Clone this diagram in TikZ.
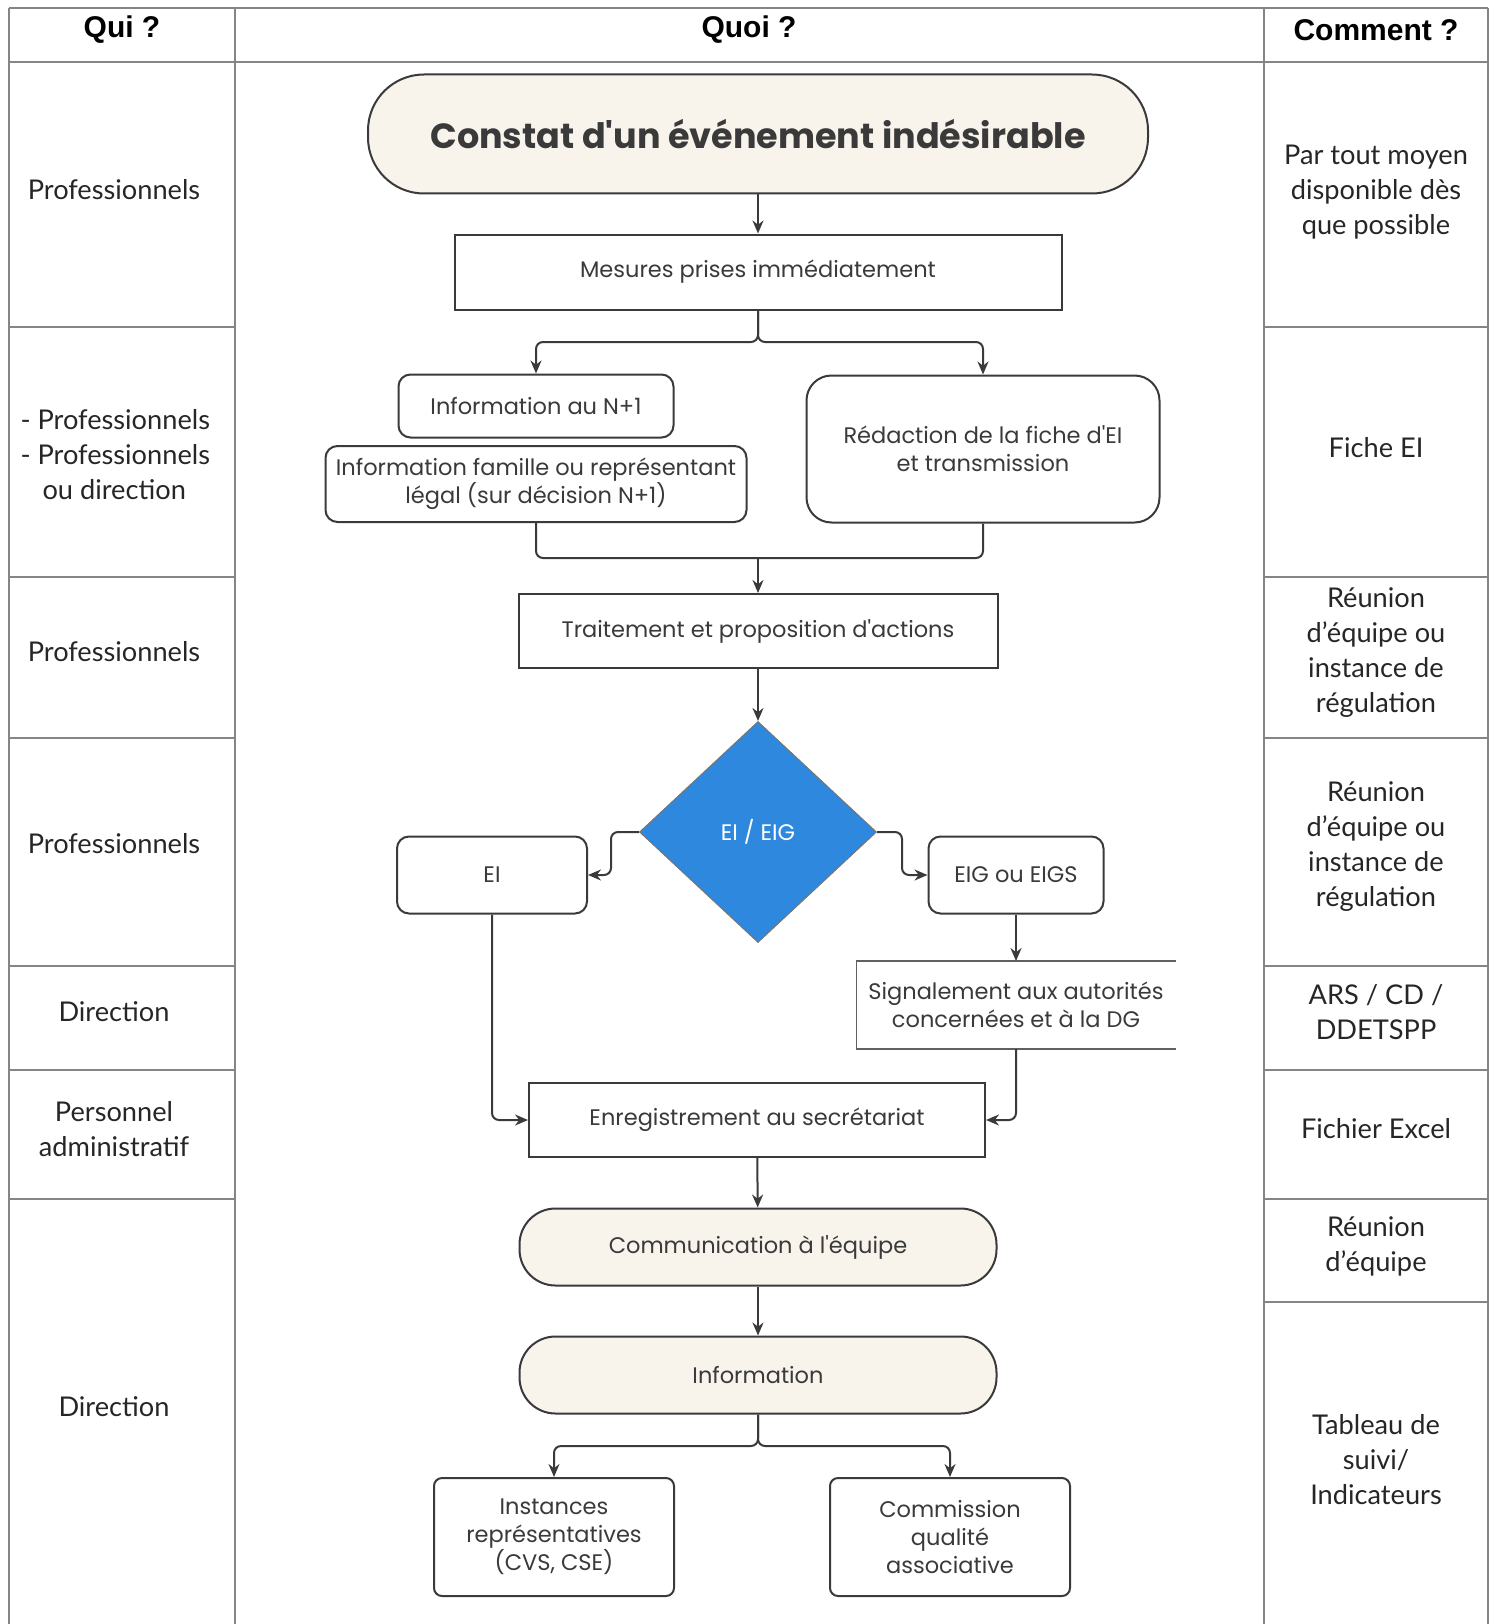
\documentclass[tikz,border=0pt]{standalone}
\usepackage{fontspec}
\setmainfont{Lato}
\newfontfamily\flowfont{Poppins}
\newfontfamily\titrefont{Liberation Sans}
\usetikzlibrary{shapes.geometric,positioning,arrows.meta}

\definecolor{creme}{HTML}{F8F4EC}
\definecolor{bleu}{HTML}{2E88DE}
\definecolor{trait}{HTML}{3A3A3A}
\definecolor{grille}{HTML}{858585}

\tikzset{
    boite/.style={draw=trait, line width=2, fill=white, text=trait, align=center,
                  inner sep=0, font=\flowfont\fontsize{22.5}{28}\selectfont},
    carre/.style={boite, rectangle},
    arrondi/.style={boite, rounded corners=12},
    stade/.style={boite, fill=creme, rounded corners=36},
    fleche/.style={-{Stealth[length=13,width=11]}, draw=trait, line width=2, rounded corners=7},
    ligne/.style={draw=trait, line width=2, rounded corners=7},
}

\begin{document}
\begin{tikzpicture}[x=1pt, y=-1pt,
    cellule/.style={font=\fontsize{27.2}{35}\selectfont, align=center, text=black!85},
    entete/.style={font=\titrefont\bfseries\fontsize{30}{34}\selectfont}]
    \useasboundingbox (0,0) rectangle (1496,1624);

    % Grid
    \draw[grille, line width=2] (9,8) -- (1488,8) (9,62) -- (1488,62);
    \foreach \x in {9,235,1264,1488} \draw[grille, line width=2] (\x,8) -- (\x,1624);
    \foreach \y in {327,577,738,966,1070,1199} \draw[grille, line width=2] (9,\y) -- (235,\y);
    \foreach \y in {327,577,738,966,1070,1199,1302} \draw[grille, line width=2] (1264,\y) -- (1488,\y);

    % Headers
    \node[entete] (qui) at (122,30) {Qui ?};
    \node[entete] (quoi) at (749,30) {Quoi ?};
    \node[entete] (comment) at (1376,30) {Comment ?};

    % Qui ?
    \foreach \y/\texte in {190/Professionnels, 652/Professionnels, 844/Professionnels,
                           1012/Direction, 1129/{Personnel\\administratif}, 1407/Direction}
        \node[cellule] at (114,\y) {\texte};
    \node[cellule, align=left, anchor=west] (qui2) at (17,455)
        {- Professionnels\\- Professionnels\\\hspace*{22pt}ou direction};

    % Comment ?
    \foreach \y/\texte in {192/{Par tout moyen\\disponible dès\\que possible}, 448/Fiche EI,
                           653/{Réunion\\d’équipe ou\\instance de\\régulation},
                           847/{Réunion\\d’équipe ou\\instance de\\régulation},
                           1012/{ARS / CD /\\DDETSPP}, 1129/Fichier Excel,
                           1246/{Réunion\\d’équipe}, 1460/{Tableau de\\suivi/\\Indicateurs}}
        \node[cellule] at (1376,\y) {\texte};

    % Quoi ?
    \node[stade, rounded corners=56, minimum width=780, minimum height=119,
          font=\flowfont\bfseries\fontsize{35}{40}\selectfont] (constat) at (758,134)
        {Constat d'un événement indésirable};
    \node[carre, minimum width=607, minimum height=75] (mesures) at (758,272)
        {Mesures prises immédiatement};
    \node[arrondi, minimum width=275, minimum height=63] (infoN) at (536,406)
        {Information au N+1};
    \node[arrondi, minimum width=421, minimum height=76] (famille) at (536,484)
        {Information famille ou représentant\\légal (sur décision N+1)};
    \node[arrondi, rounded corners=25, minimum width=353, minimum height=147] (redaction) at (983,449)
        {Rédaction de la fiche d'EI\\et transmission};
    \node[carre, minimum width=479, minimum height=74] (traitement) at (758,631)
        {Traitement et proposition d'actions};
    \node[diamond, aspect=1.07, fill=bleu, draw=trait!70, line width=1, minimum width=237,
          minimum height=221, inner sep=0, text=white, font=\flowfont\fontsize{22.5}{28}\selectfont]
        (choix) at (758,832) {EI / EIG};
    \node[arrondi, minimum width=190, minimum height=77] (ei) at (492,875) {EI};
    \node[arrondi, minimum width=175, minimum height=77] (eig) at (1016,875) {EIG ou EIGS};
    \node[boite, draw=none, minimum width=317, minimum height=86] (signal) at (1016,1005)
        {Signalement aux autorités\\concernées et à la DG};
    \draw[trait!80, line width=1.5] (signal.north east) -- (signal.north west)
        -- (signal.south west) -- (signal.south east);
    \node[carre, minimum width=456, minimum height=74] (enreg) at (757,1120)
        {Enregistrement au secrétariat};
    \node[stade, minimum width=477, minimum height=77] (commun) at (758,1247)
        {Communication à l'équipe};
    \node[stade, minimum width=477, minimum height=77] (information) at (758,1375)
        {Information};
    \node[arrondi, rounded corners=8, minimum width=240, minimum height=118] (instances) at (554,1537)
        {Instances\\représentatives\\(CVS, CSE)};
    \node[arrondi, rounded corners=8, minimum width=240, minimum height=118] (commission) at (950,1537)
        {Commission\\qualité\\associative};

    % Connectors
    \coordinate (fourche) at (758,342);
    \coordinate (jonction) at (758,558);
    \coordinate (fourche2) at (758,1446);
    \draw[fleche] (constat) -- (mesures);
    \draw[fleche] (mesures.south) -- (fourche) -| (infoN.north);
    \draw[fleche] (mesures.south) -- (fourche) -| (redaction.north);
    \draw[ligne] (famille.south) |- (jonction);
    \draw[ligne] (redaction.south) |- (jonction);
    \draw[fleche] (jonction) -- (traitement);
    \draw[fleche] (traitement) -- (choix);
    \draw[fleche] (choix.west) -- ++(-28,0) |- (ei.east);
    \draw[fleche] (choix.east) -- ++(25,0) |- (eig.west);
    \draw[fleche] (eig) -- (signal);
    \draw[fleche] (signal.south) |- (enreg.east);
    \draw[fleche] (ei.south) |- (enreg.west);
    \draw[fleche] (enreg) -- (commun);
    \draw[fleche] (commun) -- (information);
    \draw[fleche] (information.south) -- (fourche2) -| (instances.north);
    \draw[fleche] (information.south) -- (fourche2) -| (commission.north);
\end{tikzpicture}
\end{document}
